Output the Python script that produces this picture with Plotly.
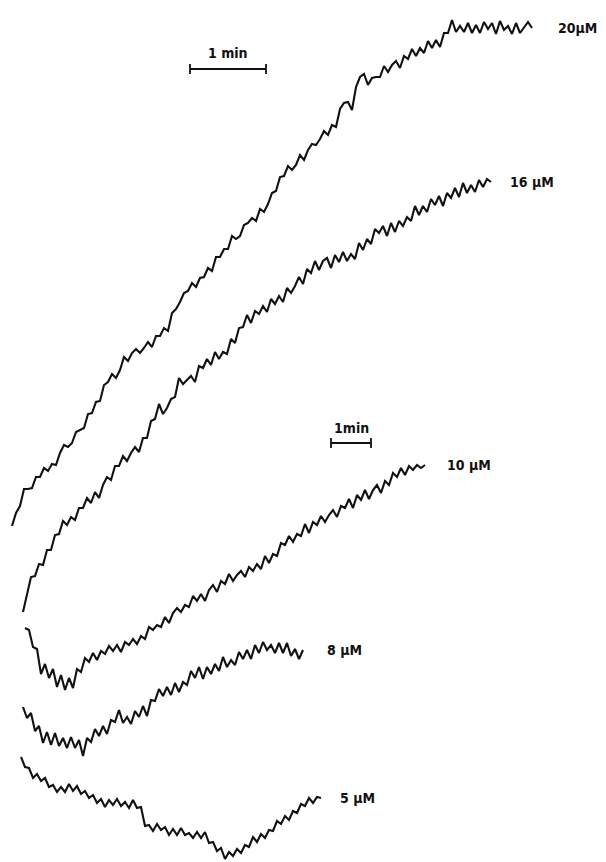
import plotly.graph_objects as go

# sampling step (arbitrary time units) for all traces
dt = 4

# 20 uM trace
t0_20 = 12
a_20 = [526, 513, 506, 489, 489, 488, 477, 477, 468, 471, 464, 465, 453, 445, 447, 443, 432, 430, 428, 414,
        413, 402, 401, 385, 382, 374, 378, 370, 357, 361, 353, 349, 353, 348, 342, 347, 336, 336, 328, 331,
        313, 309, 302, 293, 291, 283, 287, 278, 277, 268, 271, 257, 257, 249, 249, 236, 239, 236, 225, 223,
        218, 221, 209, 212, 204, 193, 191, 177, 176, 166, 170, 165, 155, 160, 150, 144, 145, 139, 131, 135,
        125, 127, 109, 103, 102, 110, 87, 77, 74, 85, 78, 77, 77, 66, 72, 65, 61, 68, 56, 59,
        49, 56, 48, 53, 41, 48, 40, 47, 33, 33, 20, 32, 26, 32, 23, 33, 25, 33, 22, 29,
        23, 34, 21, 30, 26, 34, 23, 33, 27, 22, 28]

# 16 uM trace
t0_16 = 23
a_16 = [612, 593, 577, 576, 564, 565, 550, 550, 535, 534, 521, 525, 517, 520, 508, 508, 498, 503, 492, 498,
        485, 477, 480, 466, 466, 456, 461, 453, 447, 452, 438, 438, 421, 419, 404, 414, 408, 399, 397, 378,
        384, 380, 376, 382, 366, 368, 359, 365, 352, 359, 352, 354, 339, 343, 328, 327, 315, 323, 311, 314,
        306, 312, 299, 304, 296, 302, 288, 293, 286, 277, 284, 269, 273, 261, 270, 261, 258, 268, 255, 262,
        252, 261, 254, 259, 243, 250, 239, 244, 229, 233, 226, 236, 223, 232, 221, 226, 217, 221, 206, 215,
        206, 212, 199, 205, 196, 206, 193, 198, 188, 197, 183, 193, 185, 192, 180, 187, 179, 182]

# 10 uM trace
t0_10 = 25
a_10 = [628, 630, 647, 649, 674, 664, 678, 669, 687, 675, 690, 678, 688, 669, 672, 658, 662, 653, 660, 651,
        654, 646, 651, 645, 652, 642, 645, 639, 644, 636, 639, 627, 630, 625, 627, 617, 623, 613, 608, 612,
        605, 607, 596, 601, 594, 601, 590, 585, 592, 581, 584, 574, 581, 575, 571, 577, 567, 571, 564, 569,
        556, 563, 554, 556, 543, 545, 536, 542, 534, 536, 524, 533, 522, 525, 516, 522, 515, 510, 517, 506,
        508, 499, 508, 495, 500, 490, 499, 490, 485, 493, 481, 485, 473, 477, 468, 475, 466, 470, 465, 468,
        465]

# 8 uM trace
t0_8 = 23
a_8 = [707, 718, 713, 731, 726, 743, 732, 745, 733, 746, 738, 748, 737, 748, 740, 756, 738, 742, 729, 736,
       726, 734, 720, 722, 710, 723, 717, 724, 711, 717, 706, 716, 700, 701, 689, 696, 687, 695, 683, 692,
       682, 685, 671, 678, 667, 679, 667, 674, 664, 671, 657, 667, 660, 665, 652, 659, 650, 659, 645, 653,
       642, 650, 645, 653, 643, 653, 643, 656, 649, 659, 650]

# 5 uM trace
t0_5 = 21
a_5 = [757, 767, 768, 778, 774, 781, 778, 787, 785, 792, 787, 792, 784, 791, 786, 794, 791, 798, 795, 803,
       799, 807, 800, 805, 799, 806, 802, 808, 800, 808, 807, 826, 825, 831, 824, 830, 827, 835, 829, 835,
       828, 835, 833, 838, 832, 838, 832, 843, 842, 851, 848, 859, 852, 856, 849, 853, 845, 847, 837, 842,
       834, 838, 830, 831, 821, 824, 816, 820, 811, 813, 804, 806, 798, 803, 797, 798]

series = [
    ("20\u00b5M", t0_20, a_20, 24),
    ("16 \u00b5M", t0_16, a_16, 17),
    ("10 \u00b5M", t0_10, a_10, 20),
    ("8 \u00b5M", t0_8, a_8, 22),
    ("5 \u00b5M", t0_5, a_5, 17),
]

fig = go.Figure()
label_font = dict(family="DejaVu Sans Condensed, DejaVu Sans, sans-serif", size=14, color="#111")

for name, t0, a, gap in series:
    t = [t0 + dt * k for k in range(len(a))]
    fig.add_trace(go.Scatter(x=t, y=a, mode="lines", name=name,
                             line=dict(color="#111", width=2.1), showlegend=False,
                             hoverinfo="skip"))
    fig.add_annotation(x=t[-1] + gap, y=a[-1], text="<b>" + name + "</b>", showarrow=False,
                       xanchor="left", yanchor="middle", font=label_font)

# time scale bars (1 min)
scale_bars = [(190, 266, 69, 53), (331, 371, 443, 428)]
for x0, x1, yb, yt in scale_bars:
    fig.add_trace(go.Scatter(x=[x0, x1], y=[yb, yb], mode="lines+markers",
                             line=dict(color="#111", width=1.8),
                             marker=dict(symbol="line-ns-open", size=7, color="#111",
                                         line=dict(width=1.8, color="#111")),
                             showlegend=False, hoverinfo="skip"))
for (x0, x1, yb, yt), txt in zip(scale_bars, ["1 min", "1min"]):
    fig.add_annotation(x=(x0 + x1) / 2, y=yt, text="<b>" + txt + "</b>", showarrow=False,
                       xanchor="center", yanchor="middle", font=label_font)

# the page body adds an 8 px margin; size the figure and axis ranges so that
# one axis unit equals one screen pixel of the 606x862 window
fig.update_layout(
    width=598, height=854,
    margin=dict(l=0, r=0, t=0, b=0),
    paper_bgcolor="white", plot_bgcolor="white",
    xaxis=dict(range=[8, 606], visible=False, fixedrange=True),
    yaxis=dict(range=[862, 8], visible=False, fixedrange=True),
)

fig.write_html("out.html")
